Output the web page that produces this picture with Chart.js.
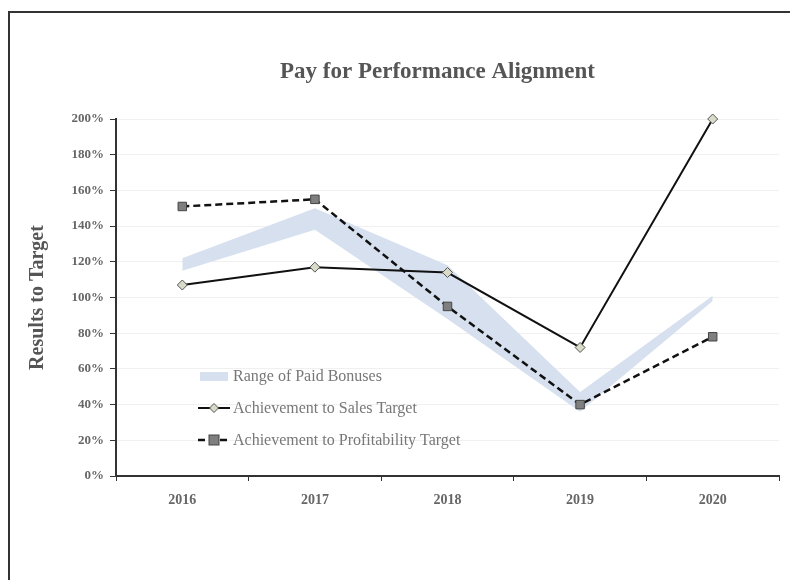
<!DOCTYPE html>
<html>
<head>
<meta charset="utf-8">
<script src="https://cdn.jsdelivr.net/npm/chart.js@4.4.1/dist/chart.umd.min.js"></script>
<style>
  html, body { margin: 0; padding: 0; background: #fff; }
  #wrap { position: relative; width: 790px; height: 580px; overflow: hidden; }
  #frame { position: absolute; left: 8px; top: 11px; right: -4px; bottom: -4px;
           border-top: 2px solid #333; border-left: 2px solid #333; pointer-events: none; }
  canvas { position: absolute; left: 0; top: 0; }
</style>
</head>
<body>
<div id="wrap">
  <canvas id="chart" width="790" height="580"></canvas>
  <div id="frame"></div>
</div>
<script>
// --- data ---
const years = ['2016', '2017', '2018', '2019', '2020'];
const salesAchievement = [107, 117, 114, 72, 200];
const profitAchievement = [151, 155, 95, 40, 78];
const bonusLow = [115, 138, 88, 36, 98];
const bonusHigh = [122, 150, 118, 47, 101];
const yTicks = [0, 20, 40, 60, 80, 100, 120, 140, 160, 180, 200];

const chartTitle = 'Pay for Performance Alignment';
const serif = '"Liberation Serif", "Times New Roman", serif';
const bandColor = '#d6e0ef';

// title sits a bit left of the plot centre in the original
const offsetTitle = {
    id: 'offsetTitle',
    afterDraw(chart) {
        const ctx = chart.ctx;
        const a = chart.chartArea;
        ctx.save();
        ctx.font = 'bold 23px ' + serif;
        ctx.fillStyle = '#555';
        ctx.textAlign = 'center';
        ctx.textBaseline = 'middle';
        ctx.fillText(chartTitle, (a.left + a.right) / 2 - 10, 72);
        ctx.restore();
    }
};

// legend drawn inside the plot, like the original
const insideLegend = {
    id: 'insideLegend',
    afterDraw(chart) {
        const ctx = chart.ctx;
        const ds = chart.data.datasets;
        const x0 = 198, x1 = 230, tx = 233;
        const rows = [
            { y: 376, ds: ds[3], kind: 'band' },
            { y: 408, ds: ds[0], kind: 'line' },
            { y: 440, ds: ds[1], kind: 'line' }
        ];
        ctx.save();
        ctx.font = '16px ' + serif;
        ctx.textBaseline = 'middle';
        rows.forEach(r => {
            if (r.kind === 'band') {
                ctx.fillStyle = bandColor;
                ctx.fillRect(x0 + 2, r.y - 4, x1 - x0 - 4, 9);
            } else {
                ctx.strokeStyle = r.ds.borderColor;
                ctx.lineWidth = r.ds.borderWidth;
                ctx.setLineDash(r.ds.borderDash || []);
                ctx.beginPath();
                ctx.moveTo(x0, r.y);
                ctx.lineTo(x1, r.y);
                ctx.stroke();
                ctx.setLineDash([]);
                const cx = (x0 + x1) / 2;
                ctx.fillStyle = r.ds.pointBackgroundColor;
                ctx.strokeStyle = r.ds.pointBorderColor;
                ctx.lineWidth = 1;
                if (r.ds.pointStyle === 'rectRot') {
                    ctx.beginPath();
                    ctx.moveTo(cx, r.y - 4.5);
                    ctx.lineTo(cx + 4.5, r.y);
                    ctx.lineTo(cx, r.y + 4.5);
                    ctx.lineTo(cx - 4.5, r.y);
                    ctx.closePath();
                    ctx.fill();
                    ctx.stroke();
                } else {
                    ctx.fillRect(cx - 5, r.y - 5, 10, 10);
                    ctx.strokeRect(cx - 5, r.y - 5, 10, 10);
                }
            }
            ctx.fillStyle = '#777';
            ctx.fillText(r.ds.label, tx, r.y + 1);
        });
        ctx.restore();
    }
};

const ctx = document.getElementById('chart').getContext('2d');
new Chart(ctx, {
    type: 'line',
    data: {
        labels: years,
        datasets: [
            {
                label: 'Achievement to Sales Target',
                data: salesAchievement,
                borderColor: '#111',
                borderWidth: 2,
                pointStyle: 'rectRot',
                pointRadius: 5,
                pointBackgroundColor: '#d9dac8',
                pointBorderColor: '#555',
                pointBorderWidth: 1,
                tension: 0,
                clip: false,
                fill: false
            },
            {
                label: 'Achievement to Profitability Target',
                data: profitAchievement,
                borderColor: '#111',
                borderWidth: 2.5,
                borderDash: [7, 4],
                pointStyle: 'rect',
                pointRadius: 6,
                pointBackgroundColor: '#7f7f7f',
                pointBorderColor: '#444',
                pointBorderWidth: 1,
                tension: 0,
                clip: false,
                fill: false
            },
            {
                label: 'bonus low',
                data: bonusLow,
                borderWidth: 0,
                borderColor: 'rgba(0,0,0,0)',
                pointRadius: 0,
                tension: 0,
                fill: false
            },
            {
                label: 'Range of Paid Bonuses',
                data: bonusHigh,
                borderWidth: 0,
                borderColor: 'rgba(0,0,0,0)',
                backgroundColor: bandColor,
                pointRadius: 0,
                tension: 0,
                fill: '-1'
            }
        ]
    },
    options: {
        responsive: false,
        animation: false,
        layout: { padding: { top: 119, left: 26, right: 11, bottom: 0 } },
        plugins: {
            legend: { display: false },
            tooltip: { enabled: false },
            title: { display: false }
        },
        scales: {
            x: {
                offset: true,
                afterFit(scale) { scale.height = 104; },
                grid: {
                    offset: true,
                    color: 'rgba(0,0,0,0)',
                    tickColor: '#333',
                    tickLength: 5,
                    drawOnChartArea: false
                },
                border: { color: '#333', width: 2 },
                ticks: {
                    color: '#666',
                    padding: 11,
                    font: { family: serif, size: 14, weight: 'bold' }
                }
            },
            y: {
                min: 0,
                max: 200,
                afterFit(scale) { scale.width = 90; },
                afterBuildTicks(scale) { scale.ticks = yTicks.map(v => ({ value: v })); },
                grid: {
                    color: '#f0f0f0',
                    tickColor: '#333',
                    tickLength: 6
                },
                border: { color: '#333', width: 2 },
                ticks: {
                    color: '#666',
                    padding: 6,
                    font: { family: serif, size: 13, weight: 'bold' },
                    callback: v => v + '%'
                },
                title: {
                    display: true,
                    text: 'Results to Target',
                    color: '#555',
                    font: { family: serif, size: 20, weight: 'bold' },
                    padding: { top: 0, bottom: 0 }
                }
            }
        }
    },
    plugins: [offsetTitle, insideLegend]
});
</script>
</body>
</html>
